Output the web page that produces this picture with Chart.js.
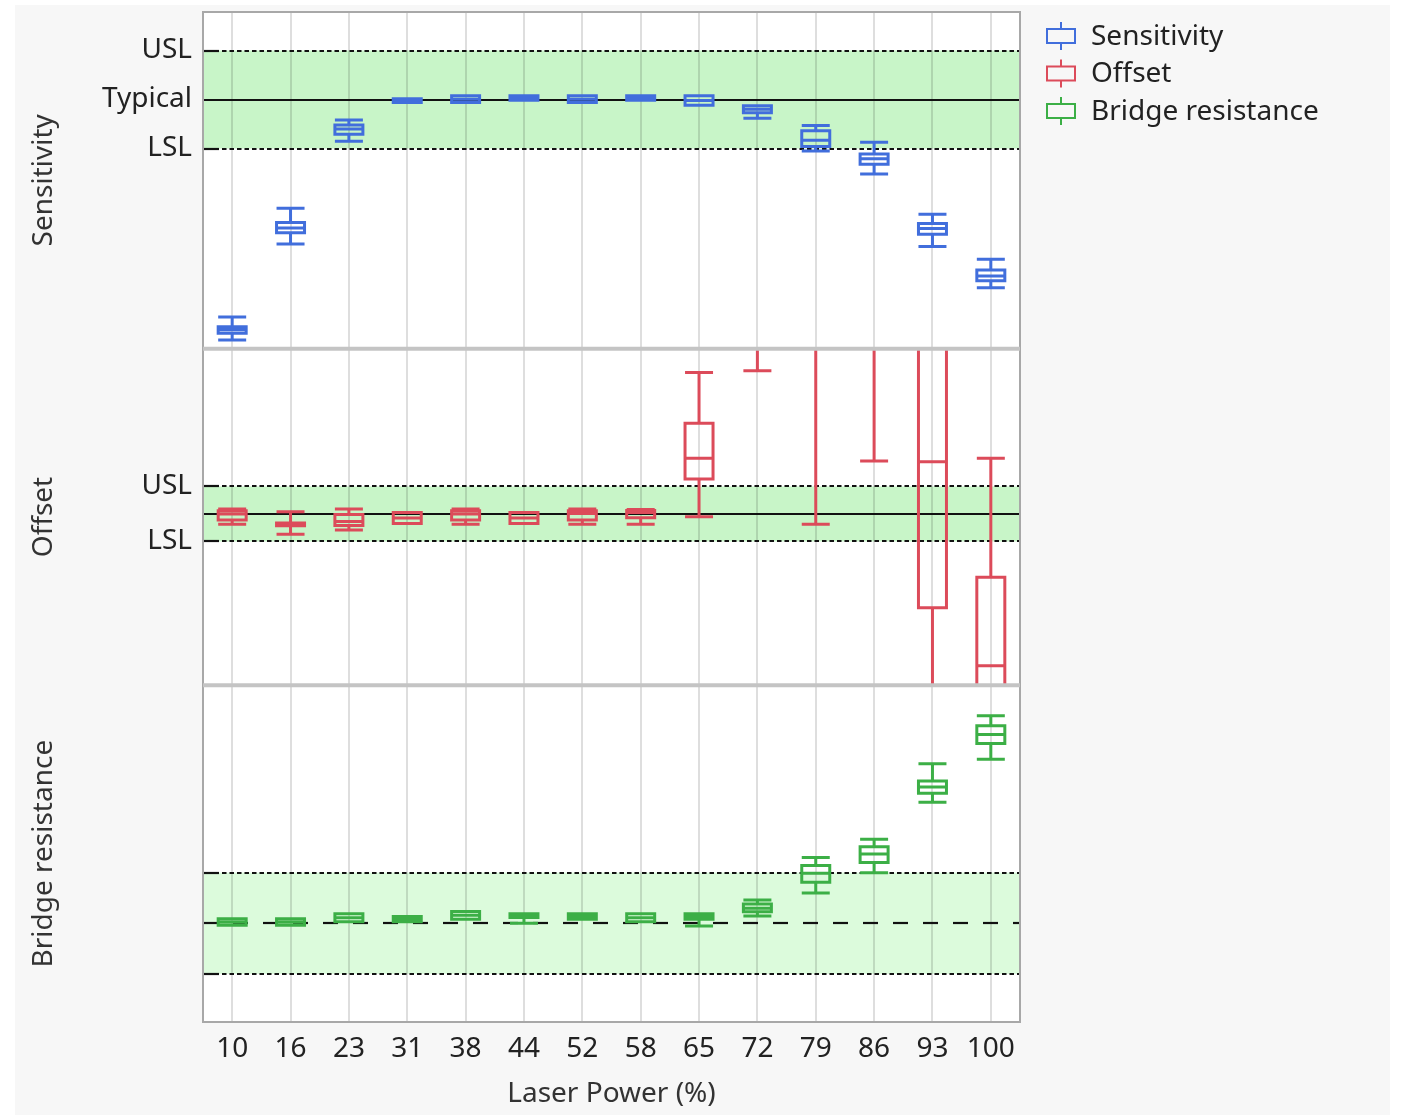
<!DOCTYPE html>
<html>
<head>
<meta charset="utf-8">
<script src="https://cdn.jsdelivr.net/npm/chart.js@4.4.1/dist/chart.umd.min.js"></script>
<style>
  html, body { margin: 0; background: #fff; }
  #wrap { position: absolute; left: 15px; top: 5px; width: 1375px; height: 1110px; background: #f7f7f7; }
</style>
</head>
<body>
<div id="wrap"><canvas id="chart" width="1375" height="1110"></canvas></div>
<script>
// Categories
const laserPower = ['10', '16', '23', '31', '38', '44', '52', '58', '65', '72', '79', '86', '93', '100'];

// Box stats per category: [whisker low, Q1, median, Q3, whisker high]
const sensitivity = [
    [50.9, 52.3, 53.0, 53.6, 55.6],
    [70.5, 72.8, 73.8, 74.9, 77.8],
    [91.5, 92.9, 94.0, 94.8, 95.8],
    [99.39, 99.39, 99.77, 100.14, 100.14],
    [99.39, 99.39, 100.07, 100.76, 100.76],
    [99.86, 99.86, 100.3, 100.76, 100.76],
    [99.39, 99.39, 100.07, 100.76, 100.76],
    [99.86, 99.86, 100.3, 100.76, 100.76],
    [98.84, 98.84, 99.8, 100.76, 100.76],
    [96.16, 97.29, 98.0, 98.71, 98.71],
    [89.5, 90.4, 91.7, 93.6, 94.7],
    [84.8, 86.8, 87.9, 88.9, 91.3],
    [70.0, 72.5, 73.7, 74.7, 76.6],
    [61.6, 63.0, 64.0, 65.2, 67.4]
];
const offset = [
    [-0.37, -0.22, 0.00, 0.12, 0.18],
    [-0.74, -0.43, -0.38, -0.33, 0.08],
    [-0.58, -0.42, -0.27, -0.02, 0.18],
    [-0.345, -0.345, -0.145, 0.055, 0.055],
    [-0.37, -0.22, 0.00, 0.12, 0.18],
    [-0.345, -0.345, -0.145, 0.055, 0.055],
    [-0.37, -0.22, 0.02, 0.12, 0.18],
    [-0.375, -0.138, 0.055, 0.127, 0.164],
    [-0.10, 1.27, 2.03, 3.30, 5.14],
    [5.21, 7.5, 8.5, 9.5, 12.0],
    [-0.37, 6.5, 8.0, 9.5, 12.0],
    [1.93, 7.0, 8.5, 10.0, 12.0],
    [-7.5, -3.41, 1.90, 6.8, 9.0],
    [-9.0, -6.8, -5.52, -2.30, 2.03]
];
const bridgeResistance = [
    [99.62, 99.62, 100.25, 100.89, 100.89],
    [99.62, 99.62, 100.25, 100.89, 100.89],
    [100.30, 100.30, 101.09, 101.88, 101.88],
    [100.30, 100.30, 100.82, 101.34, 101.34],
    [100.81, 100.81, 101.57, 102.33, 102.33],
    [100.0, 101.15, 101.5, 101.88, 101.88],
    [100.81, 100.81, 101.35, 101.88, 101.88],
    [100.30, 100.30, 101.09, 101.88, 101.88],
    [99.47, 100.81, 101.35, 101.88, 101.88],
    [101.44, 102.29, 102.96, 103.81, 104.6],
    [106.0, 108.1, 109.9, 111.4, 113.0],
    [110.0, 112.0, 113.7, 115.1, 116.6],
    [123.9, 125.7, 126.9, 128.1, 131.5],
    [132.4, 135.5, 137.3, 139.0, 141.0]
];

// Spec limits: [LSL, Typical, USL] and axis ranges [min, max]
const sensitivitySpec = [90, 100, 110];
const offsetSpec = [-1, 0, 1];
const bridgeSpec = [90, 100, 110];
const sensitivityRange = [49.15, 117.86];
const offsetRange = [-6.23, 6.01];
const bridgeRange = [80.5, 147.0];

// Tick labels shown at the spec values
const sensitivityTicks = ['LSL', 'Typical', 'USL'];
const offsetTicks = ['LSL', '', 'USL'];
const bridgeTicks = ['', '', ''];

const FONT = "'Noto Sans', 'Open Sans', sans-serif";
const textColor = '#222';

const panels = [
    { axis: 'y1', name: 'Sensitivity', stats: sensitivity, spec: sensitivitySpec, color: '#416edc', band: '#c8f5c8', typicalDash: [] },
    { axis: 'y2', name: 'Offset', stats: offset, spec: offsetSpec, color: '#dc4b5a', band: '#c8f5c8', typicalDash: [] },
    { axis: 'y3', name: 'Bridge resistance', stats: bridgeResistance, spec: bridgeSpec, color: '#3caf46', band: '#dcfbdc', typicalDash: [15, 15] }
];

function panelAxis(title, range, spec, labels, weight) {
    return {
        type: 'linear',
        position: 'left',
        stack: 'panels',
        stackWeight: 1,
        weight: weight,
        min: range[0],
        max: range[1],
        afterBuildTicks: s => { s.ticks = spec.map(v => ({ value: v })); },
        afterFit: s => {
            s.width = 188;
            s.paddingTop = 0;
            s.paddingBottom = 0;
        },
        grid: { display: false, drawTicks: false },
        border: { display: false },
        ticks: {
            padding: 11,
            color: textColor,
            font: { family: FONT, size: 28 },
            callback: (v, i) => labels[i]
        },
        title: {
            display: true,
            text: title,
            color: '#333',
            font: { family: FONT, size: 28 },
            padding: { top: 12, bottom: 0 }
        }
    };
}

// Draws bands, spec lines, boxes, panel frames and the legend
const boxPlotPlugin = {
    id: 'boxPlot',
    beforeDraw(chart) {
        const { ctx, chartArea: a } = chart;
        panels.forEach(p => {
            const s = chart.scales[p.axis];
            ctx.fillStyle = '#fff';
            ctx.fillRect(a.left, s.top, a.width, s.bottom - s.top);
            const yU = s.getPixelForValue(p.spec[2]);
            const yL = s.getPixelForValue(p.spec[0]);
            ctx.fillStyle = p.band;
            ctx.fillRect(a.left, yU, a.width, yL - yU);
        });
    },
    beforeDatasetsDraw(chart) {
        const { ctx, chartArea: a } = chart;
        ctx.save();
        ctx.strokeStyle = '#111';
        ctx.lineWidth = 2.2;
        panels.forEach(p => {
            const s = chart.scales[p.axis];
            [p.spec[0], p.spec[2]].forEach(v => {
                const y = Math.round(s.getPixelForValue(v));
                ctx.setLineDash([]);
                ctx.beginPath(); ctx.moveTo(a.left, y); ctx.lineTo(a.left + 16, y); ctx.stroke();
                ctx.setLineDash([4.5, 3]);
                ctx.beginPath(); ctx.moveTo(a.left + 19, y); ctx.lineTo(a.right, y); ctx.stroke();
            });
            const yT = Math.round(s.getPixelForValue(p.spec[1]));
            ctx.setLineDash(p.typicalDash);
            ctx.beginPath(); ctx.moveTo(a.left, yT); ctx.lineTo(a.right, yT); ctx.stroke();
        });
        ctx.restore();
    },
    afterDatasetsDraw(chart) {
        const { ctx, chartArea: a } = chart;
        const xs = chart.scales.x;
        const half = 14;
        panels.forEach(p => {
            const s = chart.scales[p.axis];
            ctx.save();
            ctx.beginPath();
            ctx.rect(a.left, s.top, a.width, s.bottom - s.top);
            ctx.clip();
            ctx.strokeStyle = p.color;
            ctx.lineWidth = 3;
            p.stats.forEach((st, i) => {
                const x = xs.getPixelForValue(i);
                const [lo, q1, med, q3, hi] = st.map(v => s.getPixelForValue(v));
                ctx.beginPath();
                ctx.rect(x - half, q3, half * 2, q1 - q3);
                ctx.moveTo(x - half, med); ctx.lineTo(x + half, med);
                ctx.moveTo(x, q3); ctx.lineTo(x, hi);
                ctx.moveTo(x, q1); ctx.lineTo(x, lo);
                ctx.moveTo(x - half, hi); ctx.lineTo(x + half, hi);
                ctx.moveTo(x - half, lo); ctx.lineTo(x + half, lo);
                ctx.stroke();
            });
            ctx.restore();
        });

        // panel frames and separators
        ctx.save();
        ctx.strokeStyle = '#a8a8a8';
        ctx.lineWidth = 2;
        ctx.strokeRect(a.left, a.top, a.width, a.height);
        ctx.strokeStyle = '#c4c4c4';
        ctx.lineWidth = 4;
        panels.slice(1).forEach(p => {
            const top = chart.scales[p.axis].top;
            ctx.beginPath(); ctx.moveTo(a.left, top); ctx.lineTo(a.right, top); ctx.stroke();
        });
        ctx.restore();

        // legend
        ctx.save();
        ctx.font = '28px ' + FONT;
        ctx.textBaseline = 'middle';
        ctx.lineWidth = 2;
        panels.forEach((p, i) => {
            const y = 31 + i * 37.5;
            const x = 1046;
            ctx.strokeStyle = p.color;
            ctx.beginPath();
            ctx.rect(x - 14, y - 7, 28, 14);
            ctx.moveTo(x, y - 14); ctx.lineTo(x, y - 7);
            ctx.moveTo(x, y + 7); ctx.lineTo(x, y + 14);
            ctx.stroke();
            ctx.fillStyle = textColor;
            ctx.fillText(p.name, 1076, y + 1);
        });
        ctx.restore();
    }
};

new Chart(document.getElementById('chart'), {
    type: 'line',
    data: {
        labels: laserPower,
        datasets: panels.map(p => ({
            label: p.name,
            yAxisID: p.axis,
            data: p.stats.map(st => st[2]),
            showLine: false,
            pointRadius: 0,
            borderColor: p.color,
            backgroundColor: p.color
        }))
    },
    options: {
        responsive: false,
        animation: false,
        events: [],
        layout: { padding: { left: 0, right: 370, top: 7, bottom: 0 } },
        plugins: {
            legend: { display: false },
            tooltip: { enabled: false }
        },
        scales: {
            x: {
                type: 'category',
                offset: true,
                afterFit: s => { s.height = 93; },
                grid: { offset: false, color: 'rgba(0,0,0,0.13)', lineWidth: 2, drawTicks: false },
                border: { display: false },
                ticks: {
                    padding: 10,
                    color: textColor,
                    autoSkip: false,
                    maxRotation: 0,
                    font: { family: FONT, size: 28 }
                },
                title: {
                    display: true,
                    text: 'Laser Power (%)',
                    color: '#333',
                    font: { family: FONT, size: 28 },
                    padding: { top: 0 }
                }
            },
            y1: panelAxis('Sensitivity', sensitivityRange, sensitivitySpec, sensitivityTicks, 3),
            y2: panelAxis('Offset', offsetRange, offsetSpec, offsetTicks, 2),
            y3: panelAxis('Bridge resistance', bridgeRange, bridgeSpec, bridgeTicks, 1)
        }
    },
    plugins: [boxPlotPlugin]
});
</script>
</body>
</html>
